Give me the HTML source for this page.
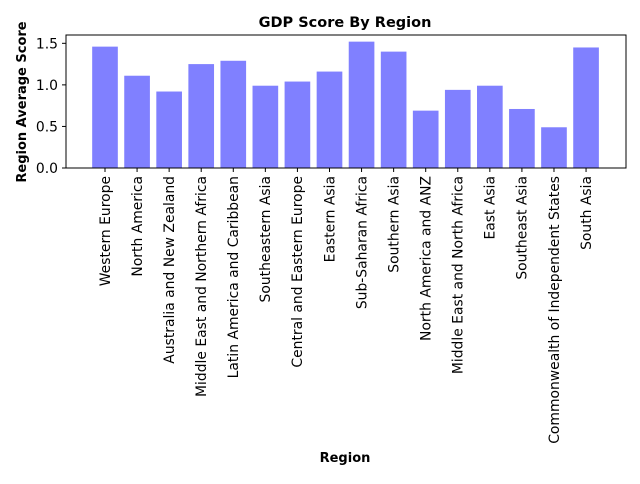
<!DOCTYPE html>
<html><head><meta charset="utf-8"><style>
body{margin:0;background:#fff;font-family:"DejaVu Sans",sans-serif}
</style></head><body>
<svg width="640" height="480" xmlns="http://www.w3.org/2000/svg" id="c" font-family="DejaVu Sans, sans-serif">
<text x="345" y="27" text-anchor="middle" font-size="14.5" font-weight="bold">GDP Score By Region</text>
<text x="345" y="462" text-anchor="middle" font-size="13" font-weight="bold">Region</text>
<text transform="translate(26,102) rotate(-90)" text-anchor="middle" font-size="13" font-weight="bold">Region Average Score</text>
<g id="bars"></g><g id="ticks"></g>
<rect x="66" y="35" width="560" height="133" fill="none" stroke="#000" stroke-width="1"/>
</svg>
<script>
const categories=["Western Europe","North America","Australia and New Zealand","Middle East and Northern Africa","Latin America and Caribbean","Southeastern Asia","Central and Eastern Europe","Eastern Asia","Sub-Saharan Africa","Southern Asia","North America and ANZ","Middle East and North Africa","East Asia","Southeast Asia","Commonwealth of Independent States","South Asia"];
const values=[1.46,1.11,0.92,1.25,1.29,0.99,1.04,1.16,1.52,1.40,0.69,0.94,0.99,0.71,0.49,1.45];
const yTicks=[0,0.5,1.0,1.5];
const yTickLabels=["0.0","0.5","1.0","1.5"];
const NS="http://www.w3.org/2000/svg";
const y0=168,yMax=1.6,plotH=133;
function yS(v){return y0-v/yMax*plotH;}
const step=32.07;
function xS(i){return 105+i*step;}
const bars=document.getElementById('bars'),ticks=document.getElementById('ticks');
values.forEach((v,i)=>{
 const r=document.createElementNS(NS,'rect');
 const w=step*0.8;
 r.setAttribute('x',xS(i)-w/2);r.setAttribute('y',yS(v));
 r.setAttribute('width',w);r.setAttribute('height',y0-yS(v));
 r.setAttribute('fill','#8080ff');
 
 
 bars.appendChild(r);
 const l=document.createElementNS(NS,'line');
 l.setAttribute('x1',xS(i));l.setAttribute('x2',xS(i));l.setAttribute('y1',168);l.setAttribute('y2',172);l.setAttribute('stroke','#000');
 
 
 ticks.appendChild(l);
 const t=document.createElementNS(NS,'text');
 t.setAttribute('transform','translate('+(xS(i)+4.8)+',176) rotate(-90)');
 t.setAttribute('text-anchor','end');t.setAttribute('font-size','13.9');
 t.textContent=categories[i];
 
 
 ticks.appendChild(t);
});
yTicks.forEach((v,i)=>{
 const l=document.createElementNS(NS,'line');
 l.setAttribute('x1',62);l.setAttribute('x2',66);l.setAttribute('y1',yS(v));l.setAttribute('y2',yS(v));l.setAttribute('stroke','#000');
 
 
 ticks.appendChild(l);
 const t=document.createElementNS(NS,'text');
 t.setAttribute('x',58);t.setAttribute('y',yS(v)+5);t.setAttribute('text-anchor','end');t.setAttribute('font-size','13.9');
 t.textContent=yTickLabels[i];
 
 
 ticks.appendChild(t);
});
</script>
</body></html>
